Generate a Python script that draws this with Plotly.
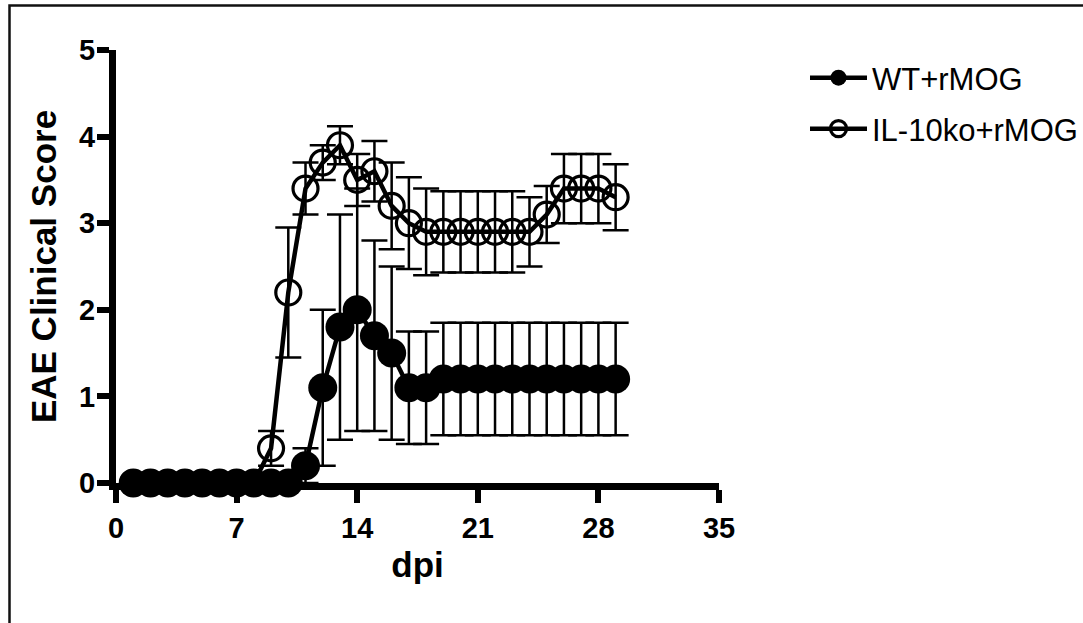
import plotly.graph_objects as go

# Days post immunisation
days = [1, 2, 3, 4, 5, 6, 7, 8, 9, 10, 11, 12, 13, 14, 15, 16, 17, 18, 19, 20,
        21, 22, 23, 24, 25, 26, 27, 28, 29]

# Mean clinical score and SEM, WT mice immunised with rMOG
wt_mean = [0, 0, 0, 0, 0, 0, 0, 0, 0, 0, 0.2, 1.1, 1.8, 2.0, 1.7, 1.5, 1.1, 1.1,
           1.2, 1.2, 1.2, 1.2, 1.2, 1.2, 1.2, 1.2, 1.2, 1.2, 1.2]
wt_sem = [0, 0, 0, 0, 0, 0, 0, 0, 0, 0, 0.2, 0.9, 1.3, 1.4, 1.1, 1.0, 0.65, 0.65,
          0.65, 0.65, 0.65, 0.65, 0.65, 0.65, 0.65, 0.65, 0.65, 0.65, 0.65]

# Mean clinical score and SEM, IL-10 knockout mice immunised with rMOG
ko_mean = [0, 0, 0, 0, 0, 0, 0, 0, 0.4, 2.2, 3.4, 3.7, 3.9, 3.5, 3.6, 3.2, 3.0, 2.9,
           2.9, 2.9, 2.9, 2.9, 2.9, 2.9, 3.1, 3.4, 3.4, 3.4, 3.3]
ko_sem = [0, 0, 0, 0, 0, 0, 0, 0, 0.2, 0.75, 0.3, 0.2, 0.22, 0.3, 0.35, 0.5, 0.53, 0.5,
          0.47, 0.47, 0.47, 0.47, 0.47, 0.4, 0.33, 0.4, 0.4, 0.4, 0.38]

x_ticks = [0, 7, 14, 21, 28, 35]
y_ticks = [0, 1, 2, 3, 4, 5]

FONT = "Liberation Sans"
W, H = 1083, 623
L, R, T, B = 116, 364, 50, 140
PW, PH = W - L - R, H - T - B


def px_to_paper(px, py):
    return (px - L) / PW, (H - B - py) / PH


err_style = dict(type="data", visible=True, color="black", thickness=2.5, width=13)

fig = go.Figure()

fig.add_trace(go.Scatter(
    x=days, y=ko_mean, name="IL-10ko+rMOG", legend="legend2",
    mode="lines+markers",
    line=dict(color="black", width=4.5),
    marker=dict(symbol="circle-open", size=25, color="black", line=dict(width=3.2)),
    error_y=dict(array=ko_sem, **err_style),
    cliponaxis=False,
))

fig.add_trace(go.Scatter(
    x=days, y=wt_mean, name="WT+rMOG", legend="legend",
    mode="lines+markers",
    line=dict(color="black", width=4.5),
    marker=dict(symbol="circle", size=29, color="black"),
    error_y=dict(array=wt_sem, **err_style),
    cliponaxis=False,
))

lx1, ly1 = px_to_paper(805, 51)
lx2, ly2 = px_to_paper(805, 102)
legend_common = dict(
    font=dict(family=FONT, size=31, color="black"),
    bgcolor="rgba(0,0,0,0)", borderwidth=0,
    itemwidth=57, xanchor="left", yanchor="top",
)

# outer frame
fx0, fy0 = px_to_paper(9.5, 5.5)
fx1, fy1 = px_to_paper(W + 20, H + 20)

fig.update_layout(
    width=W, height=H,
    margin=dict(l=L, r=R, t=T, b=B, autoexpand=False),
    paper_bgcolor="white", plot_bgcolor="white",
    showlegend=True,
    legend=dict(x=lx1, y=ly1, **legend_common),
    legend2=dict(x=lx2, y=ly2, **legend_common),
    shapes=[dict(type="rect", xref="paper", yref="paper",
                 x0=fx0, y0=fy0, x1=fx1, y1=fy1,
                 line=dict(color="#111111", width=2.5), layer="below")],
    xaxis=dict(
        range=[0, 35], tickvals=x_ticks, ticktext=[str(v) for v in x_ticks],
        showline=True, linecolor="black", linewidth=7,
        ticks="outside", ticklen=13, tickwidth=6, tickcolor="black",
        showgrid=False, zeroline=False,
        tickfont=dict(family=FONT, size=29, color="black", weight="bold"),
        title=dict(text="dpi", standoff=12,
                   font=dict(family=FONT, size=35, color="black", weight="bold")),
    ),
    yaxis=dict(
        range=[0, 5], tickvals=y_ticks, ticktext=[str(v) for v in y_ticks],
        showline=True, linecolor="black", linewidth=7,
        ticks="outside", ticklen=12, tickwidth=6, tickcolor="black",
        ticklabelstandoff=-4,
        showgrid=False, zeroline=False,
        tickfont=dict(family=FONT, size=29, color="black", weight="bold"),
        title=dict(text="EAE Clinical Score", standoff=14,
                   font=dict(family=FONT, size=35, color="black", weight="bold")),
    ),
)

fig.write_html("out.html")
